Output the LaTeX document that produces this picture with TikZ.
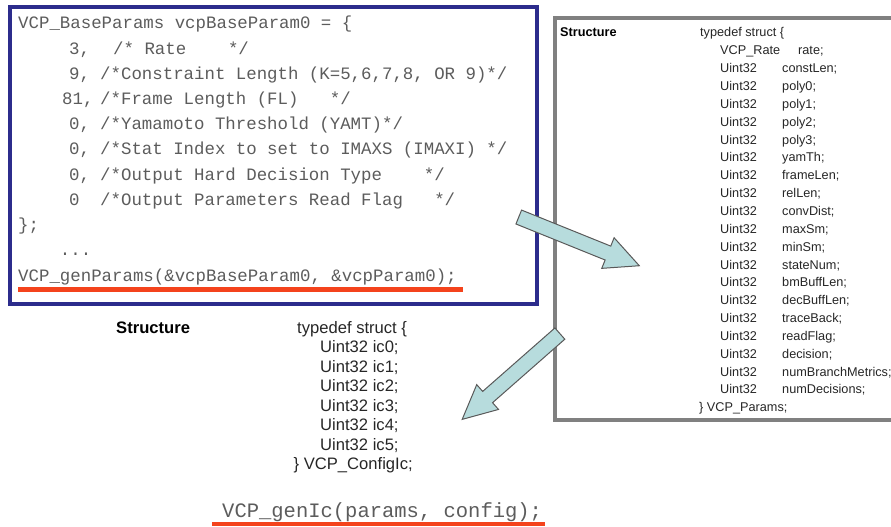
\documentclass[tikz,border=0pt]{standalone}
\usepackage{fontspec}
\setmainfont{Liberation Sans}
\setmonofont{Liberation Mono}
\usetikzlibrary{shapes.arrows, positioning}

\definecolor{frameblue}{HTML}{2C2C8C}
\definecolor{framegray}{HTML}{808080}
\definecolor{codegray}{HTML}{5C5C5C}
\definecolor{markred}{HTML}{F4431C}
\definecolor{arrowcyan}{HTML}{B7DCDD}

\begin{document}
\begin{tikzpicture}[x=1pt, y=-1pt,
  code/.style={anchor=base west, inner sep=0pt, text=codegray,
    font=\ttfamily\fontsize{17.4}{25.2}\selectfont},
  bigcode/.style={code, font=\ttfamily\fontsize{20.5}{24}\selectfont},
  struct/.style={anchor=base west, inner sep=0pt, text=black!85,
    font=\fontsize{12.7}{17.85}\selectfont},
  structlabel/.style={struct, text=black, font=\bfseries\fontsize{12.7}{17.85}\selectfont},
  bigstruct/.style={struct, font=\fontsize{16.6}{19.5}\selectfont},
  bigstructlabel/.style={struct, text=black, font=\bfseries\fontsize{16.6}{19.5}\selectfont},
  redline/.style={draw=markred, line width=5pt},
  blockarrow/.style={single arrow, draw=black!65, fill=arrowcyan, line width=1pt,
    inner xsep=0pt, inner ysep=7pt, single arrow head extend=9pt,
    single arrow tip angle=52, minimum height=130pt},
  ]

  \useasboundingbox (0,0) rectangle (891,527);

  % frames
  \draw[frameblue, line width=4pt] (10,7.5) rectangle (537,304);
  \draw[framegray, line width=4pt] (895,18) -| (555,420) -- (895,420);

  % base parameters
  \node[code] (baseparams) at (18,29) {\begin{tabular}[t]{@{}p{51pt}@{}p{31pt}@{}l@{}}
    \multicolumn{3}{@{}l@{}}{VCP\_BaseParams vcpBaseParam0 = \{}\\
    & 3, & \hspace{13pt}/*~Rate~~~~*/\\
    & 9, & /*Constraint Length (K=5,6,7,8, OR 9)*/\\
    & \hspace{-7pt}81, & /*Frame Length (FL)~~~*/\\
    & 0, & /*Yamamoto Threshold (YAMT)*/\\
    & 0, & /*Stat Index to set to IMAXS (IMAXI)~*/\\
    & 0, & /*Output Hard Decision Type~~~~*/\\
    & 0 & /*Output Parameters Read Flag~~~*/\\
    \multicolumn{3}{@{}l@{}}{\};}\\
    \multicolumn{3}{@{}l@{}}{~~~~...}
  \end{tabular}};
  \node[code] (genparams) at (18,281) {VCP\_genParams(\&vcpBaseParam0, \&vcpParam0);};
  \draw[redline] ([yshift=-8pt]genparams.base west) -- ([xshift=6pt, yshift=-8pt]genparams.base east);

  % VCP_Params
  \node[structlabel] (paramslabel) at (560,37) {Structure};
  \node[struct] (paramstruct) at (700,37) {\begin{tabular}[t]{@{}p{20pt}@{}p{62pt}@{}l@{}}
    \multicolumn{3}{@{}l@{}}{typedef struct \{}\\
    & VCP\_Rate & \hspace{16pt}rate;\\
    & Uint32 & constLen;\\
    & Uint32 & poly0;\\
    & Uint32 & poly1;\\
    & Uint32 & poly2;\\
    & Uint32 & poly3;\\
    & Uint32 & yamTh;\\
    & Uint32 & frameLen;\\
    & Uint32 & relLen;\\
    & Uint32 & convDist;\\
    & Uint32 & maxSm;\\
    & Uint32 & minSm;\\
    & Uint32 & stateNum;\\
    & Uint32 & bmBuffLen;\\
    & Uint32 & decBuffLen;\\
    & Uint32 & traceBack;\\
    & Uint32 & readFlag;\\
    & Uint32 & decision;\\
    & Uint32 & numBranchMetrics;\\
    & Uint32 & numDecisions;\\
    \multicolumn{3}{@{}l@{}}{\hspace{-1pt}\} VCP\_Params;}
  \end{tabular}};

  % VCP_ConfigIc
  \node[bigstructlabel] (configlabel) at (116,333) {Structure};
  \node[bigstruct] (configstruct) at (297,333) {\begin{tabular}[t]{@{}p{23pt}@{}l@{}}
    \multicolumn{2}{@{}l@{}}{typedef struct \{}\\
    & Uint32 ic0;\\
    & Uint32 ic1;\\
    & Uint32 ic2;\\
    & Uint32 ic3;\\
    & Uint32 ic4;\\
    & Uint32 ic5;\\
    \multicolumn{2}{@{}l@{}}{\hspace{-3.5pt}\} VCP\_ConfigIc;}
  \end{tabular}};
  \node[bigcode] (genic) at (222,517) {VCP\_genIc(params, config);};
  \draw[redline, line width=4.5pt] ([xshift=-10pt, yshift=-7pt]genic.base west) -- ([xshift=3pt, yshift=-7pt]genic.base east);

  % arrows
  \node[blockarrow, rotate=-22] (toparams) at (571.9,238.5) {};
  \node[blockarrow, rotate=-138.7] (toconfig) at (516.8,371.4) {};
\end{tikzpicture}
\end{document}
